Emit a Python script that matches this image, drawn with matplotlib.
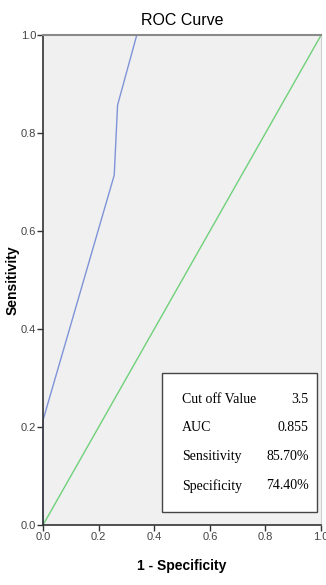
import matplotlib
matplotlib.use("Agg")
import matplotlib.pyplot as plt

# ROC curve points (1 - specificity, sensitivity)
fpr = [0.0, 0.0, 0.256, 0.268, 0.337, 1.0]
tpr = [0.0, 0.214, 0.714, 0.857, 1.0, 1.0]
ref_line = [0.0, 1.0]

stat_names = ["Cut off Value", "AUC", "Sensitivity", "Specificity"]
stat_values = ["3.5", "0.855", "85.70%", "74.40%"]
ticks = [0.0, 0.2, 0.4, 0.6, 0.8, 1.0]

sans = ["Liberation Sans Narrow", "Liberation Sans", "DejaVu Sans"]
serif = ["Liberation Serif", "DejaVu Serif"]

fig = plt.figure(figsize=(3.26, 5.85), dpi=100)
ax = fig.add_axes([0.132, 0.1026, 0.853, 0.8374])
ax.set_facecolor("#f0f0f0")

ax.plot(ref_line, ref_line, color="#6fd17a", lw=1.0)
ax.plot(fpr, tpr, color="#7f93d8", lw=1.0, clip_on=False)

ax.set_xlim(0, 1)
ax.set_ylim(0, 1)
ax.set_xticks(ticks)
ax.set_yticks(ticks)
ax.set_xticklabels([f"{t:.1f}" for t in ticks], family=sans, fontsize=8, color="#444444")
ax.set_yticklabels([f"{t:.1f}" for t in ticks], family=sans, fontsize=8, color="#444444")
ax.tick_params(direction="out", length=4, width=1, color="#333333", pad=1)

for side in ["left", "bottom"]:
    ax.spines[side].set_color("#333333")
    ax.spines[side].set_linewidth(1.2)
ax.spines["top"].set_color("#8a8a8a")
ax.spines["top"].set_linewidth(1.5)
ax.spines["right"].set_color("#d0d0d0")
ax.spines["right"].set_linewidth(0.8)

ax.set_title("ROC Curve", family=sans, fontsize=11.5, pad=7)
ax.set_xlabel("1 - Specificity", family=sans, fontsize=10, fontweight="bold", labelpad=12)
ax.set_ylabel("Sensitivity", family=sans, fontsize=10, fontweight="bold")
ax.yaxis.set_label_coords(-0.085, 0.5)

# statistics box
box = plt.Rectangle((0.428, 0.027), 0.556, 0.284, transform=ax.transAxes,
                    facecolor="white", edgecolor="#444444", lw=1.0, zorder=5)
ax.add_patch(box)
row_y = [0.256, 0.198, 0.139, 0.080]
for name, val, y in zip(stat_names, stat_values, row_y):
    ax.text(0.50, y, name, transform=ax.transAxes, family=serif, fontsize=10,
            va="center", ha="left", zorder=6)
    ax.text(0.955, y, val, transform=ax.transAxes, family=serif, fontsize=10,
            va="center", ha="right", zorder=6)

fig.savefig("out.png", dpi=100)
